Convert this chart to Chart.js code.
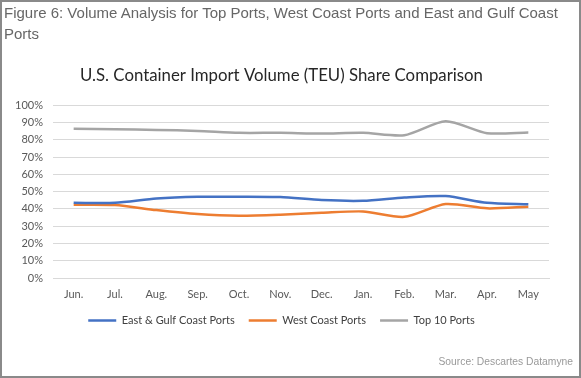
<!DOCTYPE html>
<html>
<head>
<meta charset="utf-8">
<script src="https://cdn.jsdelivr.net/npm/chart.js@4"></script>
<style>
  body { margin: 0; background: #fff; }
  #frame { position: absolute; left: 0; top: 0; width: 577px; height: 374px; border: 2px solid #8a8a8a; z-index: 2; pointer-events: none; }
  #fig { position: absolute; left: 4px; top: 2px; font-family: "Liberation Sans", Arial, sans-serif; font-size: 15px; line-height: 21px; color: #666; white-space: nowrap; z-index: 2; }
  #src { position: absolute; right: 8px; top: 356px; font-family: "Liberation Sans", Arial, sans-serif; font-size: 10.3px; color: #999; z-index: 2; }
  #wrap { position: absolute; left: 0; top: 0; width: 581px; height: 378px; }
</style>
</head>
<body>
<div id="frame"></div>
<div id="fig">Figure 6: Volume Analysis for Top Ports, West Coast Ports and East and Gulf Coast<br>Ports</div>
<div id="wrap"><canvas id="share"></canvas></div>
<div id="src">Source: Descartes Datamyne</div>
<script>
const months = ['Jun.', 'Jul.', 'Aug.', 'Sep.', 'Oct.', 'Nov.', 'Dec.', 'Jan.', 'Feb.', 'Mar.', 'Apr.', 'May'];
const eastGulf = [43.5, 43.5, 46, 47, 47, 46.8, 45.1, 44.7, 46.6, 47.4, 43.5, 42.6];
const westCoast = [42.4, 42.2, 39.3, 37, 36, 36.6, 37.7, 38.5, 35.4, 42.8, 40.3, 41.2];
const top10 = [86.3, 86.1, 85.7, 85.1, 84, 84, 83.6, 84, 82.6, 90.7, 83.8, 84.2];

function series(label, data, color) {
    return {
        label: label,
        data: data,
        borderColor: color,
        backgroundColor: color,
        borderWidth: 2.5,
        pointBorderColor: color,
        pointBackgroundColor: color,
        pointBorderWidth: 2.5
    };
}

var ctx = document.getElementById('share');
var chart = new Chart(ctx, {
    type: 'line',
    data: {
        labels: months,
        datasets: [
            series('East & Gulf Coast Ports', eastGulf, '#4472C4'),
            series('West Coast Ports', westCoast, '#ED7D31'),
            series('Top 10 Ports', top10, '#A5A5A5')
        ]
    },
    options: {
        responsive: true,
        maintainAspectRatio: false,
        animation: false,
        elements: {
            line: { tension: 0.25 },
            point: { radius: 0 }
        },
        layout: { padding: { left: 14, right: 32, top: 0, bottom: 42 } },
        plugins: {
            title: {
                display: true,
                text: 'U.S. Container Import Volume (TEU) Share Comparison',
                font: { family: 'Lato', size: 16.8, weight: 'normal' },
                color: '#262626',
                padding: { top: 66, bottom: 19 }
            },
            legend: {
                position: 'bottom',
                labels: {
                    usePointStyle: true,
                    pointStyle: 'line',
                    pointStyleWidth: 28,
                    padding: 14,
                    font: { family: 'Lato', size: 11 },
                    color: '#404040'
                }
            },
            tooltip: { enabled: false }
        },
        scales: {
            x: {
                offset: true,
                grid: { display: false, drawTicks: false },
                border: { color: '#d9d9d9' },
                ticks: { font: { family: 'Lato', size: 11 }, color: '#595959', padding: 10 },
                afterFit: s => { s.height = 23; }
            },
            y: {
                min: 0,
                max: 100,
                grid: { color: '#d9d9d9', drawTicks: false },
                border: { display: false },
                ticks: {
                    stepSize: 10,
                    font: { family: 'Lato', size: 11 },
                    color: '#595959',
                    padding: 10,
                    callback: v => v + '%'
                },
                afterFit: s => { s.width = 39; }
            }
        }
    }
});
</script>
</body>
</html>
